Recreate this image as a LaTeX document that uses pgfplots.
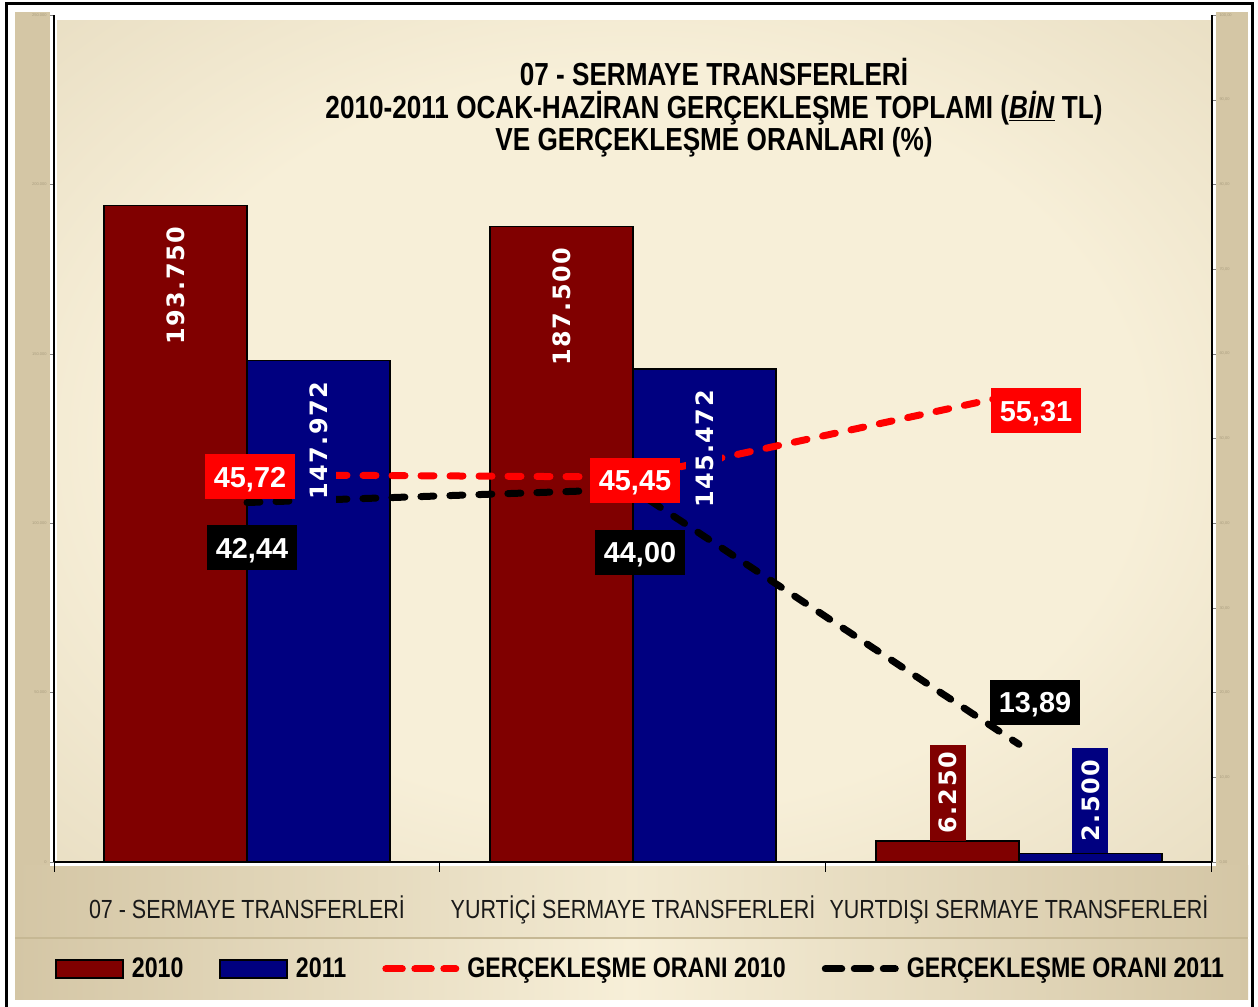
\documentclass[border=0pt]{standalone}
\usepackage{fontspec}
\setmainfont{Liberation Sans}
\newfontfamily\narrowfont[FakeStretch=0.82]{Liberation Sans}
\newfontfamily\barfont[LetterSpace=6]{DejaVu Sans}
\usepackage{pgfplots}
\pgfplotsset{compat=1.18}
\pgfplotsset{/pgf/number format/assume math mode=true}
\definecolor{tan}{RGB}{212,198,165}
\definecolor{cream}{RGB}{247,239,216}
\definecolor{sep}{RGB}{198,184,148}
\definecolor{barred}{RGB}{128,0,0}
\definecolor{barblue}{RGB}{0,0,128}
\definecolor{ticklbl}{RGB}{170,158,128}
\pgfdeclareradialshading{plotbg}{\pgfpoint{0bp}{0bp}}{color(0bp)=(cream); color(22bp)=(cream); color(50bp)=(tan!80!cream); color(72bp)=(tan)}
\tikzset{
  barlbl/.style={font={\barfont\bfseries\fontsize{24}{24}\selectfont}, text=white, inner xsep=7bp, inner ysep=9bp, text height=18bp, text depth=0bp},
  lblbox/.style={font={\bfseries\fontsize{29}{29}\selectfont}, text=white, inner xsep=9bp, inner ysep=12bp, text height=21bp, text depth=0bp, anchor=center},
}
\pgfplotsset{
  lineimg/.style={legend image code/.code={\path (0bp,-0.5bp) -- (70bp,-0.5bp); \draw[##1] (3.5bp,-0.5bp) -- (68.5bp,-0.5bp);}},
  redbarimg/.style={legend image code/.code={\draw[fill=barred, draw=black, line width=1.5bp] (0bp,-9.5bp) rectangle (67bp,8.5bp);}},
  bluebarimg/.style={legend image code/.code={\draw[fill=barblue, draw=black, line width=1.5bp] (0bp,-9.5bp) rectangle (67bp,8.5bp);}},
}
\begin{document}
\begin{tikzpicture}[x=1bp,y=1bp]
\fill[white] (0,0) rectangle (1258,1007);
\fill[tan] (15,7) rectangle (1248,995);
\shade[left color=tan, right color=tan, middle color=cream!85!tan] (15,70) rectangle (1248,141);
\fill[sep] (15,67) rectangle (1248,70);
\shade[left color=tan, right color=tan, middle color=cream] (15,7) rectangle (1248,67);
\fill[white] (50,141) rectangle (1216,995);
\shade[shading=plotbg] (57,145) rectangle (1211,986);
\draw[black, line width=3bp] (6,0) -- (6,1003.5) -- (1252.5,1003.5) -- (1252.5,0);

\node[align=center, font={\narrowfont\bfseries\fontsize{32}{32.5}\selectfont}] at (714,899)
  {07 - SERMAYE TRANSFERLERİ\\2010-2011 OCAK-HAZİRAN GERÇEKLEŞME TOPLAMI (\underline{\textit{BİN}} TL)\\VE GERÇEKLEŞME ORANLARI (\%)};

% bars, left axis
\begin{axis}[at={(54bp,145bp)}, anchor=south west, scale only axis, width=1158bp, height=847bp,
  xmin=-0.5, xmax=2.5, ymin=0, ymax=250000,
  axis x line*=bottom, axis y line*=left,
  axis line style={black, line width=1.5bp},
  xtick={0,1,2},
  xticklabels={07 - SERMAYE TRANSFERLERİ, YURTİÇİ SERMAYE TRANSFERLERİ, YURTDIŞI SERMAYE TRANSFERLERİ},
  minor xtick={-0.5,0.5,1.5,2.5},
  major x tick style={draw=none},
  minor x tick style={black, line width=1bp},
  minor tick length=10bp,
  major tick length=4bp,
  tick align=outside,
  ytick={0,50000,100000,150000,200000,250000},
  scaled y ticks=false,
  /pgf/number format/fixed, /pgf/number format/precision=0, /pgf/number format/1000 sep={.},
  y tick label style={font={\fontsize{4}{4}\selectfont}, text=ticklbl},
  xticklabel style={font={\narrowfont\fontsize{26.3}{26.3}\selectfont}, text=black!90, anchor=base, yshift=-53bp},
]
\addplot[ybar, bar width=0.37, bar shift=-0.185, fill=barred, draw=black, line width=1.5bp]
  coordinates {(0,193750) (1,187500) (2,6250)};
\addplot[ybar, bar width=0.37, bar shift=0.185, fill=barblue, draw=black, line width=1.5bp]
  coordinates {(0,147972) (1,145472) (2,2500)};
\end{axis}

% rates, right axis
\begin{axis}[at={(54bp,145bp)}, anchor=south west, scale only axis, width=1158bp, height=847bp,
  xmin=-0.5, xmax=2.5, ymin=0, ymax=100, clip=false,
  axis x line=none, axis y line*=right,
  axis line style={black, line width=1.5bp},
  ytick={0,10,...,100}, major tick length=4bp, tick align=outside,
  y tick label style={font={\fontsize{4}{4}\selectfont}, text=ticklbl},
  /pgf/number format/use comma, /pgf/number format/fixed, /pgf/number format/fixed zerofill, /pgf/number format/precision=2,
  legend columns=4,
  legend style={at={(0.001,-0.1257)}, anchor=west, draw=none, fill=none, inner sep=0pt,
    font={\narrowfont\bfseries\fontsize{28.4}{28.4}\selectfont},
    nodes={inner sep=0bp},
    /tikz/every even column/.append style={column sep=36bp},
    /tikz/every odd column/.append style={column sep=8bp}},
]
\addlegendimage{redbarimg}
\addlegendentry{2010}
\addlegendimage{bluebarimg}
\addlegendentry{2011}
\addplot[red, line width=7bp, dash pattern=on 13bp off 16bp, line cap=round, lineimg]
  coordinates {(0,45.72) (1,45.45) (2,55.31)};
\addlegendentry{GERÇEKLEŞME ORANI 2010}
\addplot[black, line width=7bp, dash pattern=on 13bp off 16bp, line cap=round, lineimg]
  coordinates {(0,42.44) (1,44.00) (2,13.89)};
\addlegendentry{GERÇEKLEŞME ORANI 2011}
% value labels of the rates
\addplot[forget plot, draw=none, point meta=y, nodes near coords,
  every node near coord/.append style={lblbox, fill=red, xshift=3bp, yshift=-2bp}] coordinates {(0,45.72)};
\addplot[forget plot, draw=none, point meta=y, nodes near coords,
  every node near coord/.append style={lblbox, fill=red, xshift=2bp, yshift=-3bp}] coordinates {(1,45.45)};
\addplot[forget plot, draw=none, point meta=y, nodes near coords,
  every node near coord/.append style={lblbox, fill=red, xshift=17bp, yshift=-17bp}] coordinates {(2,55.31)};
\addplot[forget plot, draw=none, point meta=y, nodes near coords,
  every node near coord/.append style={lblbox, fill=black, xshift=5bp, yshift=-45bp}] coordinates {(0,42.44)};
\addplot[forget plot, draw=none, point meta=y, nodes near coords,
  every node near coord/.append style={lblbox, fill=black, xshift=7bp, yshift=-63bp}] coordinates {(1,44.00)};
\addplot[forget plot, draw=none, point meta=y, nodes near coords,
  every node near coord/.append style={lblbox, fill=black, xshift=16bp, yshift=42bp}] coordinates {(2,13.89)};
\end{axis}

% bar value labels, left scale, on top
\begin{axis}[at={(54bp,145bp)}, anchor=south west, scale only axis, width=1158bp, height=847bp,
  xmin=-0.5, xmax=2.5, ymin=0, ymax=250000, clip=false, hide axis,
  /pgf/number format/fixed, /pgf/number format/precision=0, /pgf/number format/1000 sep={.},
]
\addplot[draw=none, point meta=y, nodes near coords,
  every node near coord/.append style={barlbl, fill=barred, yshift=-14bp, rotate=90, anchor=east}]
  coordinates {(-0.185,193750) (0.815,187500)};
\addplot[draw=none, point meta=y, nodes near coords,
  every node near coord/.append style={barlbl, fill=barblue, yshift=-14bp, rotate=90, anchor=east}]
  coordinates {(0.185,147972) (1.185,145472)};
\addplot[draw=none, point meta=y, nodes near coords,
  every node near coord/.append style={barlbl, fill=barred, rotate=90, anchor=west}]
  coordinates {(1.815,6250)};
\addplot[draw=none, point meta=y, nodes near coords,
  every node near coord/.append style={barlbl, fill=barblue, inner xsep=12bp, rotate=90, anchor=west}]
  coordinates {(2.185,2500)};
\end{axis}
\pgfresetboundingbox
\useasboundingbox (0,0) rectangle (1258,1007);
\end{tikzpicture}
\end{document}
